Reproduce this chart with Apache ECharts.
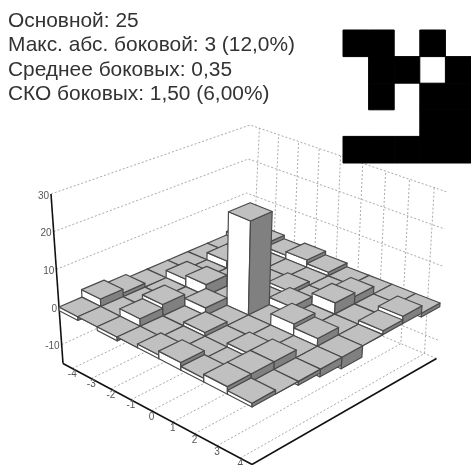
<!DOCTYPE html>
<html>
<head>
<meta charset="utf-8">
<style>
  html, body { margin: 0; padding: 0; background: #fff; overflow: hidden; }
  #chart { width: 471px; height: 465px; }
</style>
<script src="https://cdn.jsdelivr.net/npm/echarts@6/dist/echarts.min.js"></script>
</head>
<body>
<div id="chart"></div>
<script>
const infoLines = [
  'Основной: 25',
  'Макс. абс. боковой: 3 (12,0%)',
  'Среднее боковых: 0,35',
  'СКО боковых: 1,50 (6,00%)',
]

// 5x5 code, 1 = black, 0 = white
const codeRows = [
  [1, 1, 0, 1, 0],
  [0, 1, 1, 0, 1],
  [0, 1, 0, 1, 1],
  [0, 0, 0, 1, 1],
  [1, 1, 1, 1, 1],
]

const lagTicks = [-4, -3, -2, -1, 0, 1, 2, 3, 4]
const zTicks = [30, 20, 10, 0, -10]
const zBottom = -15

// rows run along the back-left axis, columns along the labelled axis
const surfaceRows = [
  [1, 2, 1, 2, 1, 0, -1, 0, -1],
  [0, 2, 0, -2, 0, 0, 2, 0, 2],
  [-1, 2, 1, 0, 1, -2, 3, 0, 1],
  [-2, -2, 0, 0, 0, 2, -2, 0, 0],
  [-3, 2, 3, 0, 25, 0, 3, 2, -3],
  [0, 0, -2, 2, 0, 0, 0, -2, -2],
  [1, 0, 3, -2, 1, 0, 1, 2, -1],
  [2, 0, 2, 0, 0, -2, 0, 2, 0],
  [-1, 0, -1, 0, 1, 2, 1, 2, 1],
]

// screen corners of the box: left, front, right, back
const plane0 = [[59, 307], [252, 407], [440, 303], [245, 227]]
const plane30 = [[51, 194], [252, 292], [447, 192], [250, 125]]

function homography(q) {
  const [[x0, y0], [x1, y1], [x2, y2], [x3, y3]] = q
  const dx1 = x1 - x2, dx2 = x3 - x2, sx = x0 - x1 + x2 - x3
  const dy1 = y1 - y2, dy2 = y3 - y2, sy = y0 - y1 + y2 - y3
  const den = dx1 * dy2 - dx2 * dy1
  const g = (sx * dy2 - dx2 * sy) / den
  const h = (dx1 * sy - sx * dy1) / den
  return (u, v) => {
    const w = g * u + h * v + 1
    return [
      ((x1 - x0 + g * x1) * u + (x3 - x0 + h * x3) * v + x0) / w,
      ((y1 - y0 + g * y1) * u + (y3 - y0 + h * y3) * v + y0) / w,
    ]
  }
}

const h0 = homography(plane0)
const h30 = homography(plane30)

// a, b are lags (-4.5..4.5), z is the value
function project(a, b, z) {
  const u = (a + 4.5) / 9
  const v = (b + 4.5) / 9
  const p = h0(u, v)
  const q = h30(u, v)
  const t = z / 30
  return [p[0] + (q[0] - p[0]) * t, p[1] + (q[1] - p[1]) * t]
}

const cells = []
surfaceRows.forEach((row, r) => {
  row.forEach((val, c) => {
    cells.push([lagTicks[c], lagTicks[8 - r], val])
  })
})
// painter's order, back corner first
cells.sort((p, q) => (p[0] - p[1]) - (q[0] - q[1]))

const codeData = []
codeRows.forEach((row, r) => row.forEach((val, c) => {
  if (val) codeData.push([c, r])
}))

function poly(points, fill) {
  return {
    type: 'polygon',
    shape: { points },
    style: { fill, stroke: '#4a4a4a', lineWidth: 1.2, lineJoin: 'round' },
  }
}

function renderCell(params, api) {
  const a = api.value(0)
  const b = api.value(1)
  const val = api.value(2)
  const top = Math.max(val, 0)
  const low = Math.min(val, 0)
  const l = a - 0.5, r = a + 0.5, n = b - 0.5, f = b + 0.5
  return {
    type: 'group',
    children: [
      poly([project(l, n, top), project(r, n, top), project(r, n, low), project(l, n, low)], '#fff'),
      poly([project(r, n, top), project(r, f, top), project(r, f, low), project(r, n, low)], '#808080'),
      poly([project(l, n, top), project(r, n, top), project(r, f, top), project(l, f, top)], '#c0c0c0'),
    ],
  }
}

// drawn as a slightly oversized rect so neighbouring black cells do not show a seam
function renderCode(params, api) {
  const p = api.coord([api.value(0), api.value(1)])
  const s = api.size([1, 1])
  return {
    type: 'rect',
    shape: { x: p[0] - s[0] / 2, y: p[1] - s[1] / 2, width: s[0], height: s[1] },
    style: { fill: '#000', stroke: '#000', lineWidth: 1 },
  }
}

function dashed(points) {
  return {
    type: 'polyline',
    shape: { points },
    style: { fill: 'none', stroke: '#aaa', lineWidth: 1, lineDash: [2, 2] },
  }
}

function solid(p, q) {
  return {
    type: 'line',
    shape: { x1: p[0], y1: p[1], x2: q[0], y2: q[1] },
    style: { stroke: '#111', lineWidth: 1.6 },
  }
}

function label(p, text, align) {
  return {
    type: 'text',
    style: {
      x: p[0], y: p[1], text, align, verticalAlign: 'middle',
      font: '10px "Liberation Sans", Arial, sans-serif', fill: '#555',
    },
  }
}

function renderWalls() {
  const children = []
  zTicks.forEach((z) => {
    if (z === 0) return
    children.push(dashed([project(-4.5, -4.5, z), project(-4.5, 4.5, z), project(4.5, 4.5, z)]))
  })
  children.push(dashed([project(-4.5, 4.5, zBottom), project(4.5, 4.5, zBottom)]))
  lagTicks.forEach((t) => {
    children.push(dashed([project(t, -4.5, zBottom), project(t, 4.5, zBottom), project(t, 4.5, 30)]))
  })
  return { type: 'group', children }
}

function renderAxes() {
  const children = [
    solid(project(-4.5, -4.5, 30), project(-4.5, -4.5, zBottom)),
    solid(project(-4.5, -4.5, zBottom), project(4.5, -4.5, zBottom)),
    solid(project(4.5, -4.5, zBottom), project(4.5, 4.5, zBottom)),
  ]
  zTicks.forEach((z) => {
    const p = project(-4.5, -4.5, z)
    children.push(label([p[0] - 2, p[1] + 2], String(z), 'right'))
  })
  lagTicks.forEach((t) => {
    const p = project(t, -4.5, zBottom)
    children.push(label([p[0], p[1] + 6], String(t), 'center'))
  })
  return { type: 'group', children }
}

const chart = echarts.init(document.getElementById('chart'), null, { renderer: 'canvas' })

chart.setOption({
  animation: false,
  backgroundColor: '#fff',
  graphic: infoLines.map((text, i) => ({
    type: 'text',
    left: 8,
    top: 11 + i * 24.2,
    style: {
      text,
      font: '20.9px "Liberation Sans", Arial, sans-serif',
      fill: '#333',
    },
  })),
  grid: { left: 343, top: 30, width: 133, height: 133 },
  xAxis: { type: 'category', show: false, data: [0, 1, 2, 3, 4] },
  yAxis: { type: 'category', show: false, inverse: true, data: [0, 1, 2, 3, 4] },
  series: [
    { type: 'custom', silent: true, data: codeData, renderItem: renderCode },
    {
      type: 'custom',
      coordinateSystem: 'none',
      silent: true,
      data: [[0]],
      renderItem: renderWalls,
      z: 1,
    },
    {
      type: 'custom',
      coordinateSystem: 'none',
      silent: true,
      data: [[0]],
      renderItem: renderAxes,
      z: 2,
    },
    {
      type: 'custom',
      coordinateSystem: 'none',
      silent: true,
      data: cells,
      dimensions: ['a', 'b', 'val'],
      renderItem: renderCell,
      z: 3,
    },
  ],
})
</script>
</body>
</html>
